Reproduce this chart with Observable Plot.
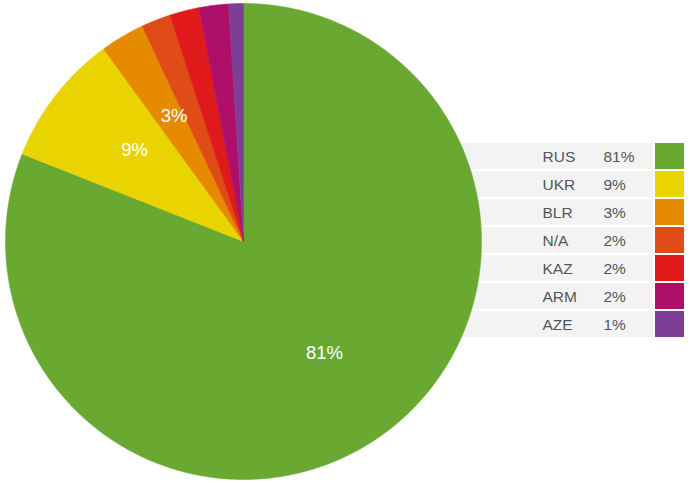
<!DOCTYPE html>
<html>
<head>
<meta charset="utf-8">
<script src="https://cdn.jsdelivr.net/npm/d3@7"></script>
<script src="https://cdn.jsdelivr.net/npm/@observablehq/plot@0.6"></script>
<style>
  html, body { margin: 0; padding: 0; background: #fff; }
  #wrap { position: relative; width: 690px; height: 483px; overflow: hidden; font-family: "Liberation Sans", Arial, sans-serif; }
  #legend { position: absolute; left: 440px; top: 141px; z-index: 0; }
  #pie { position: absolute; left: 0; top: 0; z-index: 1; }
</style>
</head>
<body>
<div id="wrap"><div id="legend"></div><div id="pie"></div></div>
<script>
const codes = ["RUS", "UKR", "BLR", "N/A", "KAZ", "ARM", "AZE"];
const shares = [81, 9, 3, 2, 2, 2, 1];
const colors = ["#69a932", "#e9d300", "#e68a00", "#df4c17", "#e0191b", "#ae1069", "#7d3e96"];

const colorScale = {type: "ordinal", domain: codes, range: colors};
const fontFamily = "Liberation Sans, Arial, sans-serif";

// Pie geometry from the data
const arcs = d3.pie().sort(null).value(d => d)(shares);
const points = [];
arcs.forEach((a, i) => {
  const code = codes[i];
  points.push({x: 0, y: 0, code});
  const n = Math.max(2, Math.ceil((a.endAngle - a.startAngle) / 0.004));
  for (let k = 0; k <= n; k++) {
    const t = a.startAngle + (a.endAngle - a.startAngle) * k / n;
    points.push({x: Math.sin(t), y: Math.cos(t), code});
  }
  points.push({x: 0, y: 0, code});
});
const labels = arcs
  .map((a, i) => ({a, code: codes[i], v: shares[i]}))
  .filter(d => d.v >= 3)
  .map(d => {
    const m = (d.a.startAngle + d.a.endAngle) / 2;
    return {x: 0.59 * Math.sin(m), y: 0.59 * Math.cos(m), text: d.v + "%"};
  });

const pie = Plot.plot({
  width: 486, height: 483, margin: 0,
  style: {background: "transparent", fontFamily},
  x: {domain: [-1, 1], range: [5, 481], axis: null},
  y: {domain: [-1, 1], range: [479, 3], axis: null},
  color: colorScale,
  marks: [
    Plot.line(points, {x: "x", y: "y", z: "code", fill: "code", stroke: "code", strokeWidth: 0.6}),
    Plot.text(labels, {x: "x", y: "y", text: "text", fill: "white", fontSize: 18.5, dx: 2, dy: -5})
  ]
});
document.getElementById("pie").appendChild(pie);

const rows = codes.map((c, i) => ({code: c, pct: shares[i] + "%"}));
const legend = Plot.plot({
  width: 245, height: 198, margin: 0,
  style: {background: "transparent", fontFamily},
  x: {domain: [0, 245], range: [0, 245], axis: null},
  y: {type: "band", domain: codes, range: [0, 198], paddingInner: 0.06, paddingOuter: 0, axis: null},
  color: colorScale,
  marks: [
    Plot.barX(rows, {x1: 0, x2: 213, y: "code", fill: "#f4f3f4"}),
    Plot.barX(rows, {x1: 215, x2: 244, y: "code", fill: "code"}),
    Plot.text(rows, {x: 102, y: "code", text: "code", textAnchor: "start", fill: "#555", fontSize: 15.5, dy: 1}),
    Plot.text(rows, {x: 163, y: "code", text: "pct", textAnchor: "start", fill: "#555", fontSize: 15.5, dy: 1})
  ]
});
document.getElementById("legend").appendChild(legend);
</script>
</body>
</html>
